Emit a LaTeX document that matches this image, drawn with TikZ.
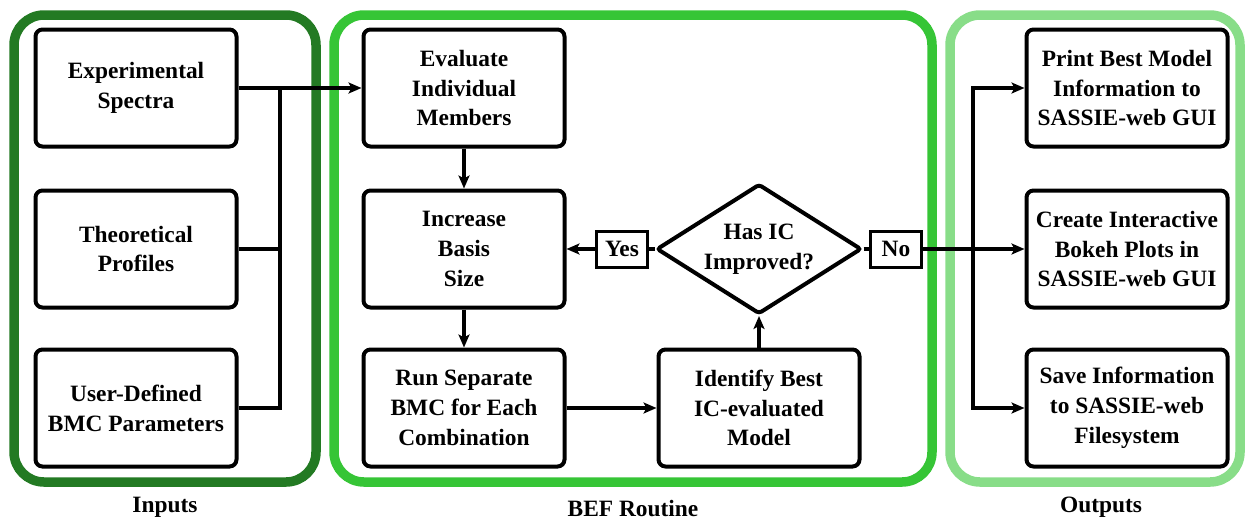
\documentclass[tikz,border=0pt]{standalone}
\usepackage{fontspec}
\setmainfont{Liberation Serif}
\usetikzlibrary{shapes.geometric,arrows.meta}
\definecolor{gdark}{RGB}{35,122,35}
\definecolor{gmid}{RGB}{54,197,54}
\definecolor{glight}{RGB}{136,221,136}
\begin{document}
\begin{tikzpicture}[x=1pt,y=-1pt,
  txt/.style={font=\fontsize{23.4}{29.8}\selectfont\bfseries},
  box/.style={txt,draw=black,line width=4pt,rounded corners=7pt,minimum width=201pt,minimum height=117pt,align=center,inner sep=0pt},
  tag/.style={txt,draw=black,line width=3pt,minimum width=51pt,minimum height=36pt,inner sep=0pt,fill=white},
  dec/.style={txt,draw=black,line width=4pt,diamond,aspect=1.58,minimum width=205pt,minimum height=130pt,inner sep=0pt,align=center,rounded corners=3pt},
  frame/.style={line width=9.5pt,rounded corners=30pt},
  ln/.style={line width=4pt},
  arr/.style={ln,-{Stealth[length=13pt,width=11pt,inset=3pt]}},
  grouplabel/.style={txt}
]
\useasboundingbox (0,0) rectangle (1246,520);
% containers
\draw[frame,draw=gdark] (14,15) rectangle (316,482);
\draw[frame,draw=gmid] (334,15) rectangle (932,482);
\draw[frame,draw=glight] (950,15) rectangle (1240,482);
% labels
\node[grouplabel] (lin) at (165,507) {Inputs};
\node[grouplabel] (lbef) at (633,509) {BEF Routine};
\node[grouplabel] (lout) at (1101,507) {Outputs};
% inputs
\node[box] (exp) at (136,88) {Experimental\\Spectra};
\node[box] (theo) at (136,249) {Theoretical\\Profiles};
\node[box] (user) at (136,408) {User-Defined\\BMC Parameters};
% BEF
\node[box] (eval) at (464,88) {Evaluate\\Individual\\Members};
\node[box] (inc) at (464,249) {Increase\\Basis\\Size};
\node[box] (run) at (464,408) {Run Separate\\BMC for Each\\Combination};
\node[box] (ident) at (759,408) {Identify Best\\IC-evaluated\\Model};
\node[dec] (ic) at (759,249) {Has IC\\Improved?};
\node[tag] (yes) at (622,249) {Yes};
\node[tag] (no) at (896,249) {No};
% outputs
\node[box] (print) at (1127,88) {Print Best Model\\Information to\\SASSIE-web GUI};
\node[box] (create) at (1127,249) {Create Interactive\\Bokeh Plots in\\SASSIE-web GUI};
\node[box] (save) at (1127,408) {Save Information\\to SASSIE-web\\Filesystem};
% input connectors
\coordinate (busA) at (280,88);
\draw[arr] (exp.east) -- (eval.west);
\draw[ln] (theo.east) -| (busA);
\draw[ln] (user.east) -| (busA);
% BEF connectors
\draw[arr] (eval.south) -- (inc.north);
\draw[arr] (inc.south) -- (run.north);
\draw[arr] (run.east) -- (ident.west);
\draw[arr] (ident.north) -- (ic.south);
\draw[ln] (ic.west) -- (yes.east);
\draw[arr] (yes.west) -- (inc.east);
\draw[ln] (ic.east) -- (no.west);
% outputs connectors
\coordinate (busB) at (973,249);
\draw[arr] (no.east) -- (create.west);
\draw[arr] (busB) |- (print.west);
\draw[arr] (busB) |- (save.west);
\end{tikzpicture}
\end{document}
